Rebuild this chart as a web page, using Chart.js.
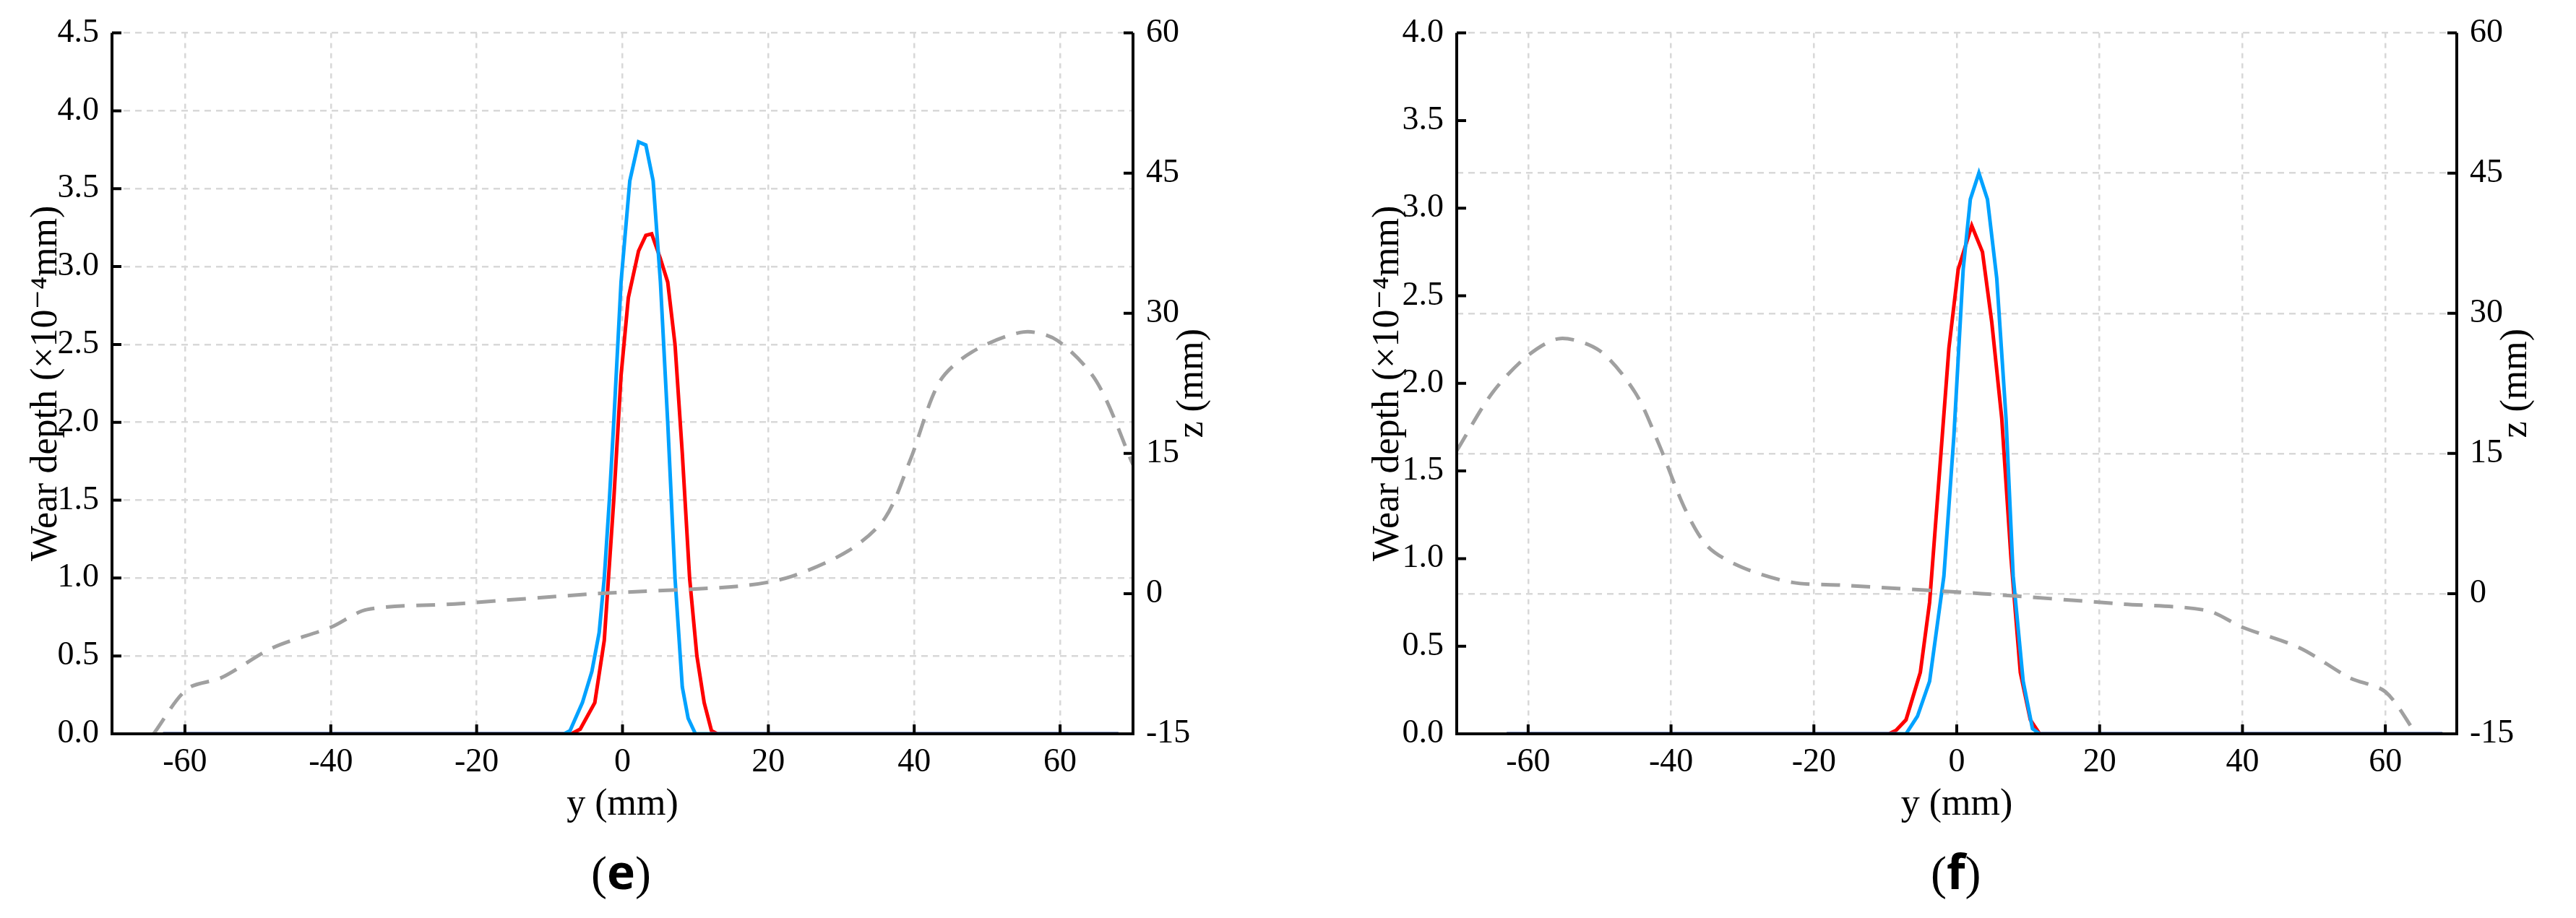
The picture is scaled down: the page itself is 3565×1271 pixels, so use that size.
<!DOCTYPE html>
<html>
<head>
<meta charset="utf-8">
<script src="https://cdn.jsdelivr.net/npm/chart.js@4.4.1/dist/chart.umd.min.js"></script>
<style>
  body { margin: 0; background: #fff; width: 3565px; height: 1271px; position: relative; overflow: hidden; }
  .pan { position: absolute; top: 0; height: 1160px; }
  .cap { position: absolute; top: 1160px; font-family: "Liberation Serif", serif; font-size: 66px; }
</style>
</head>
<body>
<div class="pan" style="left:0;width:1782px"><canvas id="chart_e"></canvas></div>
<div class="pan" style="left:1782px;width:1783px"><canvas id="chart_f"></canvas></div>
<div class="cap" style="left:818px">(<b style="font-family:'Open Sans',sans-serif">e</b>)</div>
<div class="cap" style="left:2672px">(<b style="font-family:'Open Sans',sans-serif">f</b>)</div>
<script>
// panel (e)
var e_blue_y = [-63, -8, -7.2, -5.5, -4.2, -3.2, -2.5, -1.8, -1.2, -0.2, 1, 2.2, 3.2, 4.2, 5.2, 6.2, 7.2, 8.2, 9, 10, 68];
var e_blue_w = [0, 0, 0.02, 0.2, 0.4, 0.65, 1.0, 1.5, 2.0, 2.9, 3.55, 3.8, 3.78, 3.55, 2.9, 2.0, 1.0, 0.3, 0.1, 0, 0];
var e_red_y = [-63, -7, -5.8, -3.8, -2.5, -1.2, -0.2, 0.8, 2.2, 3.2, 4, 5.2, 6.2, 7.2, 8.2, 9.2, 10.2, 11.2, 12.2, 13, 68];
var e_red_w = [0, 0, 0.03, 0.2, 0.6, 1.5, 2.3, 2.8, 3.1, 3.2, 3.21, 3.05, 2.9, 2.5, 1.8, 1.0, 0.5, 0.2, 0.02, 0, 0];
var e_gray_y = [-64.3, -59.7, -55, -48, -40, -35, -23, -3.5, 16, 23, 31, 36, 39.5, 43.5, 48, 55, 59.6, 65, 70];
var e_gray_z = [-15, -10.2, -9, -5.8, -3.6, -1.7, -1.1, 0, 0.8, 1.8, 4.6, 8.1, 14.4, 22.7, 25.9, 28.0, 27.1, 22.7, 13.8];

// panel (f)
var f_blue_y = [-63, -8, -7.1, -5.5, -3.8, -1.8, -0.4, 0.9, 1.9, 3.1, 4.3, 5.6, 6.9, 7.9, 9.3, 10.6, 11.6, 68];
var f_blue_w = [0, 0, 0.0, 0.1, 0.3, 0.9, 1.7, 2.65, 3.05, 3.2, 3.05, 2.6, 1.8, 0.9, 0.3, 0.03, 0, 0];
var f_red_y = [-63, -9.5, -8.5, -7.1, -5.1, -3.8, -2.4, -1.1, 0.2, 2.1, 3.6, 4.9, 6.3, 7.6, 8.9, 10.3, 11.6, 68];
var f_red_w = [0, 0, 0.02, 0.08, 0.35, 0.75, 1.5, 2.2, 2.65, 2.9, 2.75, 2.35, 1.8, 1.0, 0.35, 0.08, 0, 0];
var f_gray_y = [-70, -65, -60, -55.5, -50, -45, -41.7, -38, -34.8, -30, -23, -16, 3.5, 23, 35, 40, 48, 55, 60, 64.3];
var f_gray_z = [15.3, 21.5, 25.5, 27.3, 26.0, 21.5, 16, 9, 5.0, 2.8, 1.2, 0.9, 0, -1.1, -1.8, -3.6, -5.8, -9, -10.5, -15];

var left_ticks_e = [0, 0.5, 1, 1.5, 2, 2.5, 3, 3.5, 4, 4.5];
var left_ticks_f = [0, 0.5, 1, 1.5, 2, 2.5, 3, 3.5, 4];
var right_ticks = [-15, 0, 15, 30, 45, 60];
var x_ticks = [-60, -40, -20, 0, 20, 40, 60];

var fuente = "'Liberation Serif', 'DejaVu Serif', serif";

function puntos(xs, ys) {
    var r = [];
    for (var i = 0; i < xs.length; i++) r.push({x: xs[i], y: ys[i]});
    return r;
}

var marcas = {
    id: 'marcas',
    afterDraw: function (chart) {
        var ctx = chart.ctx, a = chart.chartArea, s = chart.scales;
        ctx.save();
        ctx.setLineDash([]);
        ctx.strokeStyle = '#000';
        ctx.lineWidth = 4;
        ctx.beginPath();
        ctx.moveTo(a.left, a.top); ctx.lineTo(a.left, a.bottom); ctx.lineTo(a.right, a.bottom); ctx.lineTo(a.right, a.top);
        s.x.ticks.forEach(function (t) { var p = s.x.getPixelForValue(t.value); ctx.moveTo(p, a.bottom); ctx.lineTo(p, a.bottom - 13); });
        s.y.ticks.forEach(function (t) { var p = s.y.getPixelForValue(t.value); ctx.moveTo(a.left, p); ctx.lineTo(a.left + 13, p); });
        s.y1.ticks.forEach(function (t) { var p = s.y1.getPixelForValue(t.value); ctx.moveTo(a.right, p); ctx.lineTo(a.right - 13, p); });
        ctx.stroke();
        ctx.fillStyle = '#000';
        ctx.font = '52px ' + fuente;
        ctx.textAlign = 'center';
        ctx.textBaseline = 'middle';
        ctx.fillText('y (mm)', (a.left + a.right) / 2, 1114);
        var o = chart.options.titulos;
        ctx.translate(o.lx, (a.top + a.bottom) / 2);
        ctx.rotate(-Math.PI / 2);
        ctx.fillText('Wear depth (\u00d710\u207b\u2074mm)', 0, 0);
        ctx.restore();
        ctx.save();
        ctx.font = '52px ' + fuente;
        ctx.textAlign = 'center';
        ctx.textBaseline = 'middle';
        ctx.translate(o.rx, (a.top + a.bottom) / 2);
        ctx.rotate(-Math.PI / 2);
        ctx.fillText('z (mm)', 0, 0);
        ctx.restore();
    }
};

function crear_grafico(id, blue, red, gray, ymax, lticks, gridLeft, padL, padR, lx, rx) {
    var grid = {color: '#d8d8d8', lineWidth: 2.5, drawTicks: false};
    return new Chart(document.getElementById(id), {
        type: 'line',
        data: {
            datasets: [
                {data: gray, yAxisID: 'y1', borderColor: '#a0a0a0', borderWidth: 5, borderDash: [26, 16], pointRadius: 0, tension: 0.3},
                {data: blue, yAxisID: 'y', borderColor: '#00a2ff', borderWidth: 5, pointRadius: 0, tension: 0},
                {data: red, yAxisID: 'y', borderColor: '#ff0000', borderWidth: 5, pointRadius: 0, tension: 0}
            ]
        },
        plugins: [marcas],
        options: {
            titulos: {lx: lx, rx: rx},
            responsive: true, maintainAspectRatio: false, animation: false,
            layout: {padding: {top: 41, left: 0, right: 0, bottom: 30}},
            plugins: {legend: {display: false}, tooltip: {enabled: false}},
            scales: {
                x: {
                    type: 'linear', min: -70, max: 70,
                    afterBuildTicks: function (sc) { sc.ticks = x_ticks.map(function (v) { return {value: v}; }); },
                    afterFit: function (sc) { sc.height = 114; },
                    grid: grid,
                    border: {display: false, dash: [7, 7]},
                    ticks: {color: '#000', font: {family: fuente, size: 46}, padding: 12, maxRotation: 0}
                },
                y: {
                    position: 'left', min: 0, max: ymax,
                    afterBuildTicks: function (sc) { sc.ticks = lticks.map(function (v) { return {value: v}; }); },
                    afterFit: function (sc) { sc.width = padL; },
                    grid: Object.assign({display: gridLeft}, grid),
                    border: {display: false, dash: [9, 7]},
                    ticks: {color: '#000', font: {family: fuente, size: 46}, padding: 18, callback: function (v) { return v.toFixed(1); }}
                },
                y1: {
                    position: 'right', min: -15, max: 60,
                    afterBuildTicks: function (sc) { sc.ticks = right_ticks.map(function (v) { return {value: v}; }); },
                    afterFit: function (sc) { sc.width = padR; },
                    grid: Object.assign({display: !gridLeft}, grid),
                    border: {display: false, dash: [9, 7]},
                    ticks: {color: '#000', font: {family: fuente, size: 46}, padding: 18}
                }
            }
        }
    });
}

crear_grafico('chart_e', puntos(e_blue_y, e_blue_w), puntos(e_red_y, e_red_w), puntos(e_gray_y, e_gray_z),
    4.5, left_ticks_e, true, 155, 214, 64, 1650);
crear_grafico('chart_f', puntos(f_blue_y, f_blue_w), puntos(f_red_y, f_red_w), puntos(f_gray_y, f_gray_z),
    4.0, left_ticks_f, false, 234, 165, 139, 1700);
</script>
</body>
</html>
